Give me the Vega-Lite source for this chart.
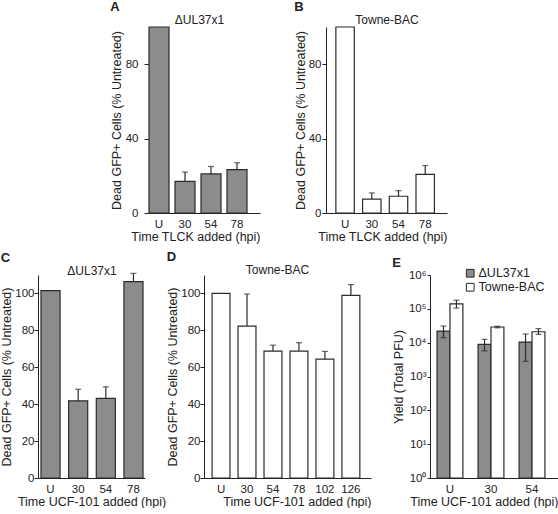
{
  "$schema": "https://vega.github.io/schema/vega-lite/v6.json",
  "padding": {"left": 0, "top": 1, "right": 0, "bottom": 0},
  "background": "white",
  "config": {
    "font": "Liberation Sans",
    "view": {"stroke": null},
    "axis": {"grid": false, "labelOverlap": false, "domainColor": "#222", "tickColor": "#222", "labelColor": "#222", "titleColor": "#222", "labelFontSize": 11.5, "titleFontSize": 12.5, "titleFontWeight": "normal", "labelFont": "Liberation Sans", "titleFont": "Liberation Sans"},
    "title": {"font": "Liberation Sans", "fontSize": 13, "fontWeight": "bold", "color": "#222", "anchor": "start", "frame": "bounds", "offset": -1},
    "legend": {"labelFont": "Liberation Sans"}
  },
  "vconcat": [
    {
      "bounds": "flush",
      "spacing": 66,
      "hconcat": [
        {
          "title": {"text": "A"},
          "width": 111, "height": 186,
          "data": {"values": [{"t": "U", "v": 100}, {"t": "30", "v": 17, "hi": 22}, {"t": "54", "v": 21, "hi": 25}, {"t": "78", "v": 23.3, "hi": 27}]},
          "resolve": {"axis": {"x": "independent"}},
          "layer": [
            {"mark": {"type": "bar", "color": "#8c8c8c", "stroke": "#2b2b2b", "strokeWidth": 1.2},
             "encoding": {
               "x": {"field": "t", "type": "ordinal", "sort": ["U", "30", "54", "78"], "scale": {"paddingInner": 0.23, "paddingOuter": 0.25, "align": 0}, "axis": {"orient": "bottom", "title": "Time TLCK added (hpi)", "ticks": false, "labelPadding": 5, "titlePadding": 1, "labelAngle": 0, "titleAnchor": "end"}},
               "y": {"field": "v", "type": "quantitative", "scale": {"domain": [0, 100]}, "axis": {"title": "Dead GFP+ Cells (% Untreated)", "values": [0, 10, 20, 30, 40, 50, 60, 70, 80, 90, 100], "labelOverlap": false, "tickSize": 5, "labelPadding": 6, "titlePadding": 2}}}},
            {"transform": [{"filter": {"field": "hi", "valid": true}}],
             "mark": {"type": "rule", "color": "#2b2b2b", "strokeWidth": 1.2},
             "encoding": {
               "x": {"field": "t", "type": "ordinal", "sort": ["U", "30", "54", "78"], "axis": {"orient": "top", "labels": false, "ticks": false, "domain": false, "title": "ΔUL37x1", "titleFontSize": 12, "titlePadding": 4, "titleBaseline": "alphabetic", "titleX": 50}},
               "y": {"field": "v", "type": "quantitative"},
               "y2": {"field": "hi"}}},
            {"transform": [{"filter": {"field": "hi", "valid": true}}],
             "mark": {"type": "tick", "orient": "horizontal", "size": 6, "thickness": 1.2, "color": "#2b2b2b"},
             "encoding": {
               "x": {"field": "t", "type": "ordinal", "sort": ["U", "30", "54", "78"], "axis": null},
               "y": {"field": "hi", "type": "quantitative"}}}
          ]
        },
        {
          "title": {"text": "B"},
          "width": 121, "height": 186,
          "data": {"values": [{"t": "U", "v": 100}, {"t": "30", "v": 7.5, "hi": 10.8}, {"t": "54", "v": 9, "hi": 12}, {"t": "78", "v": 20.8, "hi": 25.5}]},
          "resolve": {"axis": {"x": "independent"}},
          "layer": [
            {"mark": {"type": "bar", "color": "white", "stroke": "#2b2b2b", "strokeWidth": 1.2},
             "encoding": {
               "x": {"field": "t", "type": "ordinal", "sort": ["U", "30", "54", "78"], "scale": {"paddingInner": 0.31, "paddingOuter": 0.42, "align": 0.44}, "axis": {"orient": "bottom", "title": "Time TLCK added (hpi)", "ticks": false, "labelPadding": 5, "titlePadding": 1, "labelAngle": 0, "titleAnchor": "end"}},
               "y": {"field": "v", "type": "quantitative", "scale": {"domain": [0, 100]}, "axis": {"title": "Dead GFP+ Cells (% Untreated)", "values": [0, 10, 20, 30, 40, 50, 60, 70, 80, 90, 100], "labelOverlap": false, "tickSize": 4, "labelPadding": 1, "titlePadding": 1}}}},
            {"transform": [{"filter": {"field": "hi", "valid": true}}],
             "mark": {"type": "rule", "color": "#2b2b2b", "strokeWidth": 1.2},
             "encoding": {
               "x": {"field": "t", "type": "ordinal", "sort": ["U", "30", "54", "78"], "axis": {"orient": "top", "labels": false, "ticks": false, "domain": false, "title": "Towne-BAC", "titleFontSize": 12, "titlePadding": 4, "titleBaseline": "alphabetic"}},
               "y": {"field": "v", "type": "quantitative"},
               "y2": {"field": "hi"}}},
            {"transform": [{"filter": {"field": "hi", "valid": true}}],
             "mark": {"type": "tick", "orient": "horizontal", "size": 6, "thickness": 1.2, "color": "#2b2b2b"},
             "encoding": {
               "x": {"field": "t", "type": "ordinal", "sort": ["U", "30", "54", "78"], "axis": null},
               "y": {"field": "hi", "type": "quantitative"}}}
          ]
        }
      ]
    },
    {
      "bounds": "flush",
      "spacing": 59,
      "hconcat": [
        {
          "title": {"text": "C"},
          "width": 107, "height": 203,
          "data": {"values": [{"t": "U", "v": 101.5}, {"t": "30", "v": 41.8, "hi": 48.1}, {"t": "54", "v": 43.2, "hi": 49.4}, {"t": "78", "v": 106.4, "hi": 110.9}]},
          "resolve": {"axis": {"x": "independent"}},
          "layer": [
            {"mark": {"type": "bar", "color": "#8c8c8c", "stroke": "#2b2b2b", "strokeWidth": 1.2},
             "encoding": {
               "x": {"field": "t", "type": "ordinal", "sort": ["U", "30", "54", "78"], "scale": {"paddingInner": 0.31, "paddingOuter": 0.09, "align": 0.6}, "axis": {"orient": "bottom", "title": "Time UCF-101 added (hpi)", "ticks": false, "labelPadding": 5, "titlePadding": 1, "labelAngle": 0}},
               "y": {"field": "v", "type": "quantitative", "scale": {"domain": [0, 110]}, "axis": {"title": "Dead GFP+ Cells (% Untreated)", "values": [0, 10, 20, 30, 40, 50, 60, 70, 80, 90, 100, 110], "labelOverlap": false, "tickSize": 4, "labelPadding": 0, "titlePadding": 1}}}},
            {"transform": [{"filter": {"field": "hi", "valid": true}}],
             "mark": {"type": "rule", "color": "#2b2b2b", "strokeWidth": 1.2},
             "encoding": {
               "x": {"field": "t", "type": "ordinal", "sort": ["U", "30", "54", "78"], "axis": {"orient": "top", "labels": false, "ticks": false, "domain": false, "title": "ΔUL37x1", "titleFontSize": 12, "titlePadding": 1, "titleBaseline": "alphabetic"}},
               "y": {"field": "v", "type": "quantitative"},
               "y2": {"field": "hi"}}},
            {"transform": [{"filter": {"field": "hi", "valid": true}}],
             "mark": {"type": "tick", "orient": "horizontal", "size": 6, "thickness": 1.2, "color": "#2b2b2b"},
             "encoding": {
               "x": {"field": "t", "type": "ordinal", "sort": ["U", "30", "54", "78"], "axis": null},
               "y": {"field": "hi", "type": "quantitative"}}}
          ]
        },
        {
          "title": {"text": "D"},
          "width": 167, "height": 203,
          "data": {"values": [{"t": "U", "v": 100}, {"t": "30", "v": 82.3, "hi": 99.7}, {"t": "54", "v": 68.8, "hi": 72}, {"t": "78", "v": 68.8, "hi": 73.3}, {"t": "102", "v": 64.4, "hi": 68.6}, {"t": "126", "v": 99, "hi": 104.8}]},
          "resolve": {"axis": {"x": "independent"}},
          "layer": [
            {"mark": {"type": "bar", "color": "white", "stroke": "#2b2b2b", "strokeWidth": 1.2},
             "encoding": {
               "x": {"field": "t", "type": "ordinal", "sort": ["U", "30", "54", "78", "102", "126"], "scale": {"paddingInner": 0.31, "paddingOuter": 0.37, "align": 0.42}, "axis": {"orient": "bottom", "title": "Time UCF-101 added (hpi)", "ticks": false, "labelPadding": 5, "titlePadding": 1, "labelAngle": 0, "titleAnchor": "end"}},
               "y": {"field": "v", "type": "quantitative", "scale": {"domain": [0, 110]}, "axis": {"title": "Dead GFP+ Cells (% Untreated)", "values": [0, 10, 20, 30, 40, 50, 60, 70, 80, 90, 100, 110], "labelOverlap": false, "tickSize": 4, "labelPadding": 0, "titlePadding": 1}}}},
            {"transform": [{"filter": {"field": "hi", "valid": true}}],
             "mark": {"type": "rule", "color": "#2b2b2b", "strokeWidth": 1.2},
             "encoding": {
               "x": {"field": "t", "type": "ordinal", "sort": ["U", "30", "54", "78", "102", "126"], "axis": {"orient": "top", "labels": false, "ticks": false, "domain": false, "title": "Towne-BAC", "titleFontSize": 12, "titlePadding": 2, "titleBaseline": "alphabetic", "titleX": 73}},
               "y": {"field": "v", "type": "quantitative"},
               "y2": {"field": "hi"}}},
            {"transform": [{"filter": {"field": "hi", "valid": true}}],
             "mark": {"type": "tick", "orient": "horizontal", "size": 6, "thickness": 1.2, "color": "#2b2b2b"},
             "encoding": {
               "x": {"field": "t", "type": "ordinal", "sort": ["U", "30", "54", "78", "102", "126"], "axis": null},
               "y": {"field": "hi", "type": "quantitative"}}}
          ]
        },
        {
          "title": {"text": "E"},
          "width": 128, "height": 203,
          "data": {"values": [
            {"t": "U", "s": "ΔUL37x1", "v": 22000, "lo": 14000, "hi": 31000},
            {"t": "U", "s": "Towne-BAC", "v": 140000, "lo": 105000, "hi": 180000},
            {"t": "30", "s": "ΔUL37x1", "v": 8900, "lo": 5700, "hi": 12500},
            {"t": "30", "s": "Towne-BAC", "v": 29000, "lo": 27500, "hi": 30500},
            {"t": "54", "s": "ΔUL37x1", "v": 10400, "lo": 2800, "hi": 18000},
            {"t": "54", "s": "Towne-BAC", "v": 21000, "lo": 17500, "hi": 26000}
          ]},
          "layer": [
            {"mark": {"type": "bar", "stroke": "#2b2b2b", "strokeWidth": 1.2},
             "encoding": {
               "x": {"field": "t", "type": "ordinal", "sort": ["U", "30", "54"], "scale": {"paddingInner": 0.37, "paddingOuter": 0.245, "align": 0.35}, "axis": {"orient": "bottom", "title": "Time UCF-101 added (hpi)", "ticks": false, "labelPadding": 5, "titlePadding": 1, "labelAngle": 0, "titleAnchor": "end"}},
               "xOffset": {"field": "s", "type": "nominal", "sort": ["ΔUL37x1", "Towne-BAC"], "scale": {"paddingInner": 0, "paddingOuter": 0}},
               "y": {"field": "v", "type": "quantitative", "scale": {"type": "log", "domain": [1, 1000000]}, "axis": {"title": "Yield (Total PFU)", "values": [1, 10, 100, 1000, 10000, 100000, 1000000], "labelOverlap": false, "labelExpr": "'10' + ['⁰','¹','²','³','⁴','⁵','⁶'][round(log(datum.value)/LN10)]", "tickSize": 3, "labelPadding": 1, "titlePadding": 3}},
               "y2": {"datum": 1},
               "fill": {"field": "s", "type": "nominal", "sort": ["ΔUL37x1", "Towne-BAC"], "scale": {"domain": ["ΔUL37x1", "Towne-BAC"], "range": ["#8c8c8c", "white"]},
                        "legend": {"orient": "none", "legendX": 426, "legendY": 240, "title": null, "symbolType": "square", "symbolSize": 60, "symbolStrokeColor": "#2b2b2b", "symbolStrokeWidth": 1, "labelFontSize": 12.5, "labelColor": "#222", "rowPadding": 1, "labelOffset": 2, "padding": 0}}}},
            {"mark": {"type": "rule", "color": "#2b2b2b", "strokeWidth": 1.2},
             "encoding": {
               "x": {"field": "t", "type": "ordinal", "sort": ["U", "30", "54"]},
               "xOffset": {"field": "s", "type": "nominal", "sort": ["ΔUL37x1", "Towne-BAC"]},
               "y": {"field": "lo", "type": "quantitative"},
               "y2": {"field": "hi"}}},
            {"mark": {"type": "tick", "orient": "horizontal", "size": 6, "thickness": 1.2, "color": "#2b2b2b"},
             "encoding": {
               "x": {"field": "t", "type": "ordinal", "sort": ["U", "30", "54"]},
               "xOffset": {"field": "s", "type": "nominal", "sort": ["ΔUL37x1", "Towne-BAC"]},
               "y": {"field": "hi", "type": "quantitative"}}},
            {"mark": {"type": "tick", "orient": "horizontal", "size": 6, "thickness": 1.2, "color": "#2b2b2b"},
             "encoding": {
               "x": {"field": "t", "type": "ordinal", "sort": ["U", "30", "54"]},
               "xOffset": {"field": "s", "type": "nominal", "sort": ["ΔUL37x1", "Towne-BAC"]},
               "y": {"field": "lo", "type": "quantitative"}}}
          ]
        }
      ]
    }
  ],
  "spacing": 8,
  "center": true
}
